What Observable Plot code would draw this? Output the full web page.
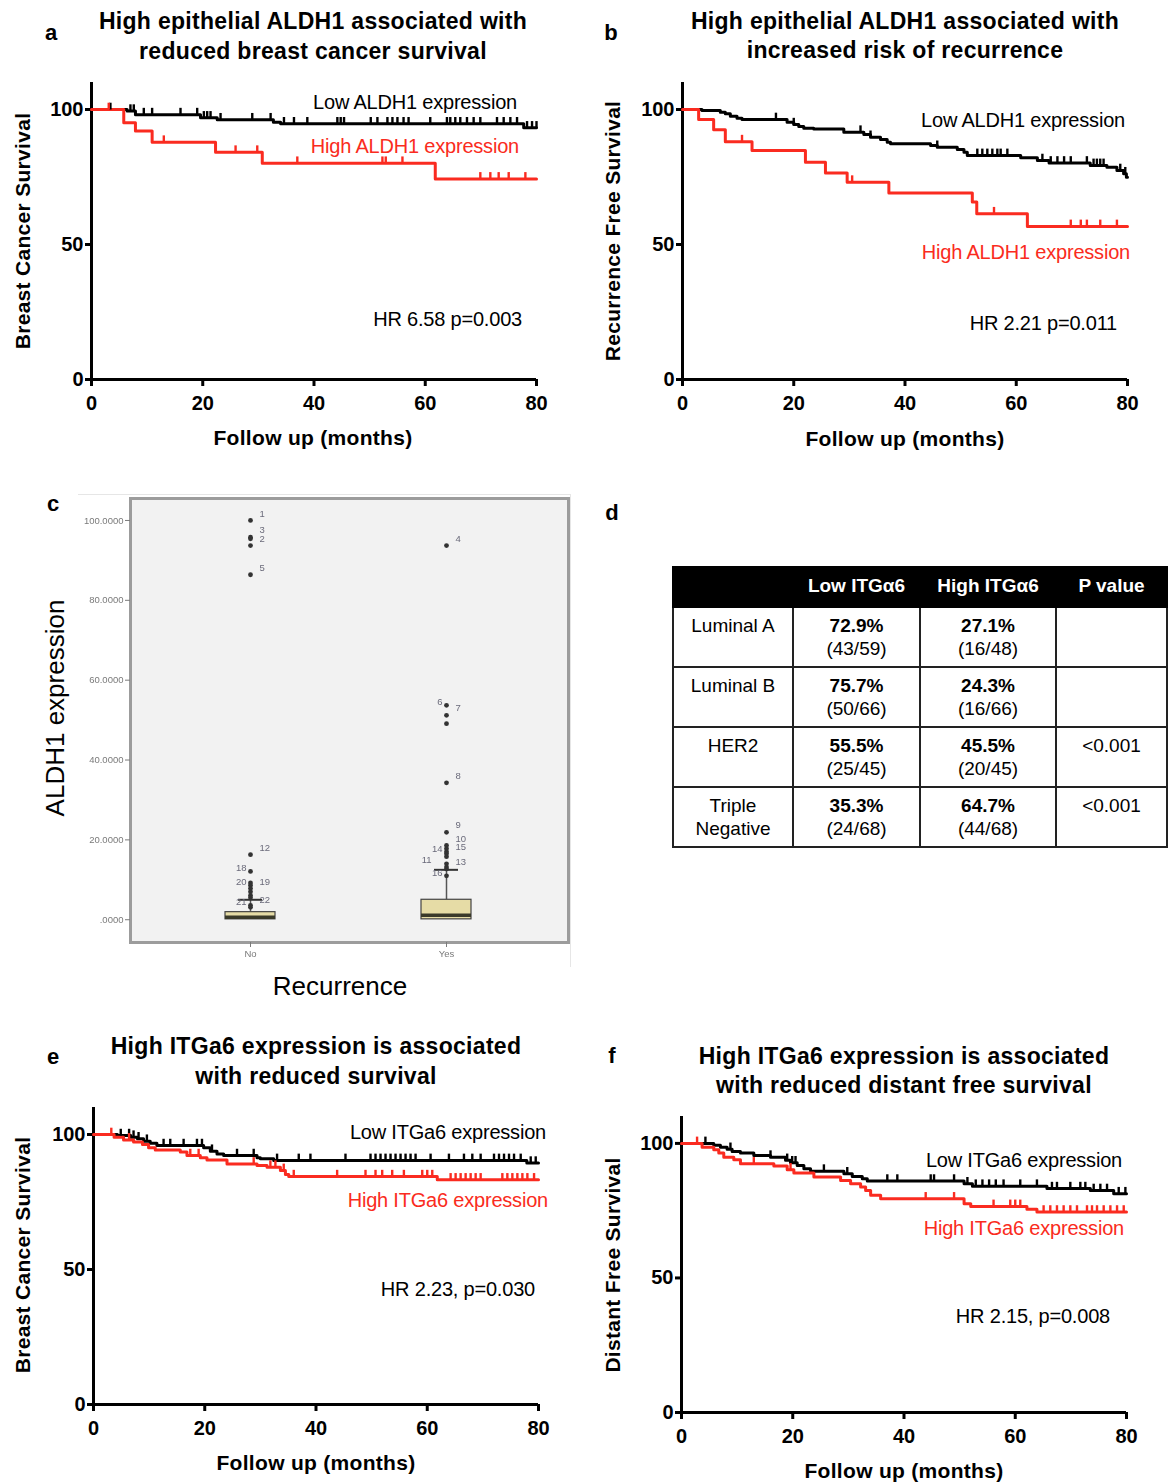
<!DOCTYPE html>
<html><head><meta charset="utf-8">
<script src="https://cdn.jsdelivr.net/npm/d3@7"></script>
<script src="https://cdn.jsdelivr.net/npm/@observablehq/plot@0.6"></script>
<style>
body{margin:0;background:#fff;}
#root{position:relative;width:1170px;height:1482px;overflow:hidden;font-family:"Liberation Sans",Arial,Helvetica,sans-serif;color:#000;background:#fff;}
.lbl{position:absolute;white-space:nowrap;line-height:1;}
table.d td, table.d th{box-sizing:border-box;}
</style></head><body><div id="root"></div>
<script>
const RED = "#fa2b20";

// ---------- Panel a: breast cancer survival by ALDH1 ----------
const aLowT = [0, 6.4, 7.9, 19.6, 22.6, 32.7, 34.0, 77.7, 80];
const aLowS = [100, 99.4, 98.1, 96.9, 96.2, 95.3, 94.7, 93.2, 93.2];
const aLowCens = [3.4, 7.0, 7.6, 9.4, 10.9, 16.0, 19.0, 20.2, 20.8, 21.4, 23.2, 28.9, 32.2, 34.6, 36.4, 38.8, 44.2, 44.8, 45.4, 50.2, 51.4, 53.2, 54.1, 55.0, 56.1, 57.0, 60.9, 63.9, 64.5, 65.4, 66.3, 67.5, 68.7, 69.9, 72.9, 74.1, 75.3, 76.5, 78.3, 79.2, 80];
const aHighT = [0, 5.8, 7.9, 10.9, 22.3, 30.7, 61.8, 80];
const aHighS = [100, 95.1, 92.0, 87.9, 84.2, 80.1, 74.3, 74.3];
const aHighCens = [3.1, 13.0, 25.9, 29.8, 37.0, 52.3, 52.9, 55.9, 69.9, 71.7, 73.2, 75.0, 78.0];

// ---------- Panel b: recurrence free survival by ALDH1 ----------
const bLowT = [0, 3.5, 6.8, 7.7, 8.6, 9.8, 10.7, 18.8, 20.0, 20.9, 21.8, 23.6, 29.0, 32.6, 33.8, 35.6, 36.8, 37.4, 44.6, 45.8, 49.4, 50.6, 51.2, 60.8, 63.8, 65.9, 73.3, 76.3, 78.1, 79.3, 79.8, 80];
const bLowS = [100, 99.6, 99.0, 98.4, 97.5, 96.8, 96.3, 95.3, 94.4, 93.7, 93.1, 92.8, 91.6, 90.7, 89.7, 88.9, 87.9, 87.3, 86.7, 86.0, 85.2, 84.2, 83.0, 82.1, 81.1, 80.2, 79.3, 78.6, 77.4, 76.2, 74.9, 74.9];
const bLowCens = [16.8, 20.0, 32.0, 33.8, 45.8, 53.0, 53.9, 54.8, 55.7, 56.6, 57.2, 58.4, 64.7, 66.2, 67.4, 68.6, 69.8, 72.7, 73.9, 74.5, 75.1, 75.7, 78.7, 79.6];
const bHighT = [0, 2.9, 5.6, 7.7, 12.5, 22.1, 25.7, 29.6, 37.1, 52.1, 52.9, 62.0, 80];
const bHighS = [100, 96.3, 92.5, 88.1, 84.8, 80.5, 76.5, 73.1, 69.1, 65.7, 61.4, 56.7, 56.7];
const bHighCens = [10.7, 30.5, 56.0, 69.8, 71.6, 72.7, 75.1, 78.1];

// ---------- Panel e: breast cancer survival by ITGa6 ----------
const eLowT = [0, 4.3, 6.7, 7.9, 9.0, 10.2, 11.4, 19.8, 21.0, 22.2, 23.4, 29.4, 30.0, 32.4, 77.9, 80];
const eLowS = [100, 99.6, 99.0, 98.4, 97.5, 96.8, 95.9, 95.1, 93.8, 92.8, 92.2, 91.4, 91.0, 90.4, 89.4, 89.4];
const eLowCens = [4.9, 6.4, 7.2, 8.1, 9.6, 12.6, 13.8, 16.2, 18.6, 19.5, 21.3, 25.8, 28.8, 33.0, 36.9, 39.0, 45.3, 49.8, 50.7, 51.6, 52.5, 53.4, 54.3, 55.2, 56.1, 57.0, 57.9, 60.6, 63.9, 66.6, 68.1, 69.6, 72.0, 72.9, 73.8, 74.7, 75.6, 76.8, 78.6, 79.5];
const eHighT = [0, 3.7, 5.4, 7.2, 8.8, 9.9, 11.1, 15.6, 16.8, 19.2, 20.4, 24.0, 29.4, 31.2, 33.6, 34.5, 35.1, 61.8, 80];
const eHighS = [100, 99.0, 98.0, 97.2, 96.3, 95.1, 94.3, 93.5, 92.2, 91.4, 90.6, 89.1, 88.5, 87.9, 86.7, 85.2, 84.4, 83.2, 83.2];
const eHighCens = [3.2, 6.4, 17.4, 18.9, 28.8, 31.8, 32.7, 34.2, 36.0, 43.8, 48.9, 50.7, 51.9, 53.7, 55.8, 59.1, 60.0, 60.9, 64.2, 65.1, 66.0, 66.9, 67.8, 68.7, 69.6, 73.5, 74.4, 75.3, 76.2, 77.1, 78.0, 79.2];

// ---------- Panel f: distant free survival by ITGa6 ----------
const fLowT = [0, 5.8, 7.0, 8.2, 9.1, 10.6, 13.0, 16.0, 18.7, 19.6, 20.8, 22.0, 23.2, 29.2, 30.7, 32.5, 33.4, 50.8, 52.3, 65.7, 73.5, 77.7, 80];
const fLowS = [100, 99.3, 98.6, 97.8, 97.0, 96.4, 95.5, 94.9, 93.7, 92.8, 91.8, 90.6, 89.7, 88.7, 87.7, 86.9, 86.0, 85.0, 84.1, 83.2, 82.5, 81.3, 81.3];
const fLowCens = [4.3, 8.8, 16.0, 19.0, 19.9, 20.5, 25.6, 29.8, 37.0, 38.8, 44.8, 45.4, 49.0, 51.4, 52.9, 54.1, 55.3, 56.5, 57.9, 60.9, 63.9, 66.6, 67.5, 69.9, 71.7, 72.6, 74.1, 75.3, 76.5, 78.6, 79.8];
const fHighT = [0, 3.7, 5.8, 6.7, 7.6, 9.4, 10.6, 16.6, 19.0, 20.2, 23.8, 28.6, 30.4, 32.2, 33.1, 34.0, 35.8, 50.8, 52.0, 62.1, 63.9, 80];
const fHighS = [100, 98.6, 97.6, 96.4, 94.9, 93.9, 92.4, 91.6, 90.2, 89.0, 87.5, 86.2, 85.0, 83.8, 82.5, 80.7, 79.4, 77.6, 76.6, 75.5, 74.5, 74.5];
const fHighCens = [2.8, 13.0, 19.6, 43.9, 49.0, 56.1, 59.1, 60.0, 60.9, 65.1, 66.3, 67.5, 68.7, 69.9, 71.1, 72.9, 73.8, 74.7, 75.9, 77.1, 78.3, 79.5];

const kmXTicks = [0, 20, 40, 60, 80];
const kmYTicks = [0, 50, 100];

// ---------- Panel c: ALDH1 expression by recurrence (boxplot) ----------
const boxCats = ["No", "Yes"];
const boxQ1 = [0.1, 0.1];
const boxMedian = [0.6, 1.1];
const boxQ3 = [1.9, 5.0];
const boxWhiskerHi = [5.0, 12.5];
const outNoValues = [100.0, 95.8, 95.4, 93.7, 86.4, 16.3, 12.1, 9.2, 8.6, 7.8, 7.0, 6.1, 5.5, 3.6, 3.1];
const outNoIds    = ["1", "3", "", "2", "5", "12", "18", "", "20", "19", "", "", "", "21", "22"];
const outYesValues = [93.7, 53.7, 51.2, 49.1, 34.3, 21.9, 18.6, 17.8, 17.0, 16.5, 15.8, 14.0, 13.2, 12.7, 11.0];
const outYesIds    = ["4", "6", "7", "", "8", "9", "10", "", "14", "15", "11", "", "", "13", "16"];
const leftLabelled = ["18", "20", "6", "14", "16", "21"];
const farLeftLabelled = ["11"];
const cTicks = [0, 20, 40, 60, 80, 100];
const cTickLabels = [".0000", "20.0000", "40.0000", "60.0000", "80.0000", "100.0000"];

// ---------- Panel d: table ----------
const tHeader = ["", "Low ITG\u03b16", "High ITG\u03b16", "P value"];
const subtypes = ["Luminal A", "Luminal B", "HER2", "Triple Negative"];
const lowPct = ["72.9%", "75.7%", "55.5%", "35.3%"];
const lowCount = ["(43/59)", "(50/66)", "(25/45)", "(24/68)"];
const highPct = ["27.1%", "24.3%", "45.5%", "64.7%"];
const highCount = ["(16/48)", "(16/66)", "(20/45)", "(44/68)"];
const pValues = ["", "", "<0.001", "<0.001"];

// ================= helpers =================
const root = document.getElementById("root");
function place(el, left, top) {
  el.style.position = "absolute"; el.style.left = left + "px"; el.style.top = top + "px";
  root.appendChild(el);
}
function txt(s, x, y, o = {}) {
  const {size = 20, weight = "normal", color = "#000", align = "center", rotate = false, ls = 0} = o;
  const d = document.createElement("div");
  d.className = "lbl"; d.textContent = s;
  d.style.fontSize = size + "px"; d.style.fontWeight = weight; d.style.color = color;
  d.style.letterSpacing = ls + "px";
  d.style.left = x + "px"; d.style.top = y + "px";
  const tx = align === "center" ? "-50%" : align === "right" ? "-100%" : "0";
  d.style.transform = `translate(${tx}, -50%)` + (rotate ? " rotate(-90deg)" : "");
  root.appendChild(d);
}
function stepAt(T, S, t) { let v = S[0]; for (let i = 0; i < T.length; i++) if (T[i] <= t) v = S[i]; return v; }
const tickUp = {draw(ctx, size) { const r = Math.sqrt(size / Math.PI); ctx.moveTo(0, 0); ctx.lineTo(0, -2 * r); }};

function km(cfg) {
  const lines = [], cens = [];
  for (const g of cfg.groups) {
    g.T.forEach((t, i) => lines.push({t, s: g.S[i], g: g.name}));
    g.C.forEach(t => cens.push({t, s: stepAt(g.T, g.S, t), g: g.name}));
  }
  return Plot.plot({
    width: cfg.width, height: cfg.height,
    marginLeft: cfg.ml, marginRight: cfg.mr, marginTop: cfg.mt, marginBottom: cfg.mb,
    x: {domain: [0, 80]},
    y: {domain: [0, 110]},
    color: {domain: ["low", "high"], range: ["#000", RED]},
    style: {fontFamily: '"Liberation Sans", Arial, sans-serif', fontSize: "20px", fontWeight: "bold", background: "transparent", overflow: "visible"},
    marks: [
      Plot.axisX({ticks: kmXTicks, tickSize: 7, tickPadding: 9, strokeWidth: 3, fontSize: 20, fontWeight: "bold", label: null, tickFormat: d => String(d)}),
      Plot.axisY({ticks: kmYTicks, tickSize: 6, tickPadding: 2, strokeWidth: 3, fontSize: 20, fontWeight: "bold", label: null, tickFormat: d => String(d)}),
      Plot.ruleY([0], {x1: 0, x2: 80, strokeWidth: 3}),
      Plot.ruleX([0], {y1: 0, y2: 110, strokeWidth: 3}),
      Plot.line(lines, {x: "t", y: "s", z: "g", stroke: "g", curve: "step-after", strokeWidth: 3}),
      Plot.dot(cens, {x: "t", y: "s", stroke: "g", symbol: tickUp, r: 3.4, strokeWidth: 2.4, fill: "none"})
    ]
  });
}

// ================= KM panels =================
place(km({width: 585, height: 350, ml: 91, mr: 49, mt: 12, mb: 41,
  groups: [{name: "low", T: aLowT, S: aLowS, C: aLowCens}, {name: "high", T: aHighT, S: aHighS, C: aHighCens}]}), 0, 70);
place(km({width: 580, height: 350, ml: 92, mr: 43, mt: 12, mb: 41,
  groups: [{name: "low", T: bLowT, S: bLowS, C: bLowCens}, {name: "high", T: bHighT, S: bHighS, C: bHighCens}]}), 590, 70);
place(km({width: 585, height: 350, ml: 93, mr: 47, mt: 12, mb: 41,
  groups: [{name: "low", T: eLowT, S: eLowS, C: eLowCens}, {name: "high", T: eHighT, S: eHighS, C: eHighCens}]}), 0, 1095);
place(km({width: 580, height: 350, ml: 91, mr: 44, mt: 12, mb: 42,
  groups: [{name: "low", T: fLowT, S: fLowS, C: fLowCens}, {name: "high", T: fHighT, S: fHighS, C: fHighCens}]}), 590, 1104);

// ================= Panel c boxplot =================
const boxes = boxCats.map((c, i) => ({c, q1: boxQ1[i], med: boxMedian[i], q3: boxQ3[i], hi: boxWhiskerHi[i]}));
const outs = [
  ...outNoValues.map((v, i) => ({c: "No", v, id: outNoIds[i]})),
  ...outYesValues.map((v, i) => ({c: "Yes", v, id: outYesIds[i]}))
];
const outRight = outs.filter(d => d.id && !leftLabelled.includes(d.id) && !farLeftLabelled.includes(d.id));
const outLeft = outs.filter(d => d.id && leftLabelled.includes(d.id));
const outFarLeft = outs.filter(d => d.id && farLeftLabelled.includes(d.id));
const cPlot = Plot.plot({
  width: 510, height: 480, marginLeft: 60, marginRight: 12, marginTop: 8, marginBottom: 28,
  x: {type: "band", domain: boxCats, range: [155, 401.7], paddingInner: 0.746, paddingOuter: 0},
  y: {domain: [-5.7, 105.5]},
  style: {fontFamily: '"Liberation Sans", Arial, sans-serif', background: "transparent", overflow: "visible"},
  marks: [
    Plot.frame({fill: "#f2f2f2", stroke: "#9c9c9c", strokeWidth: 3}),
    Plot.axisY({ticks: cTicks, tickFormat: d => cTickLabels[cTicks.indexOf(d)], tickSize: 5, tickPadding: 2, fontSize: 9.5, color: "#7a7a7a", label: null}),
    Plot.axisX({tickSize: 5, tickPadding: 3, fontSize: 9.5, color: "#7a7a7a", label: null}),
    Plot.ruleX(boxes, {x: "c", y1: "q3", y2: "hi", stroke: "#555", strokeWidth: 1.5}),
    Plot.tickY(boxes, {x: "c", y: "hi", stroke: "#333", strokeWidth: 2, insetLeft: 13, insetRight: 13}),
    Plot.barY(boxes, {x: "c", y1: "q1", y2: "q3", fill: "#e6dca6", stroke: "#444", strokeWidth: 1.2}),
    Plot.tickY(boxes, {x: "c", y: "med", stroke: "#3a3a2a", strokeWidth: 3.5}),
    Plot.dot(outs, {x: "c", y: "v", r: 2.4, fill: "#333"}),
    Plot.text(outRight, {x: "c", y: "v", text: "id", dx: 9, dy: -7, fontSize: 9.5, fill: "#6a6a7a", textAnchor: "start"}),
    Plot.text(outLeft, {x: "c", y: "v", text: "id", dx: -4, dy: -3, fontSize: 9.5, fill: "#6a6a7a", textAnchor: "end"}),
    Plot.text(outFarLeft, {x: "c", y: "v", text: "id", dx: -15, dy: 3, fontSize: 9.5, fill: "#6a6a7a", textAnchor: "end"})
  ]
});
cPlot.style.filter = "blur(0.45px)";
place(cPlot, 70, 490);
const edge = document.createElement("div");
edge.style.cssText = "width:492px;height:472px;border-top:1px solid #e6e6e6;border-right:1px solid #e6e6e6;";
place(edge, 78, 494);

// ================= Panel d table =================
const tbl = document.createElement("table");
tbl.className = "d";
tbl.style.cssText = "width:494px;border-collapse:collapse;table-layout:fixed;font-size:19px;font-family:'Liberation Sans',Arial,sans-serif;";
const colW = [120, 127, 136, 111];
const cg = document.createElement("colgroup");
colW.forEach(w => { const c = document.createElement("col"); c.style.width = w + "px"; cg.appendChild(c); });
tbl.appendChild(cg);
const hr = document.createElement("tr");
tHeader.forEach(h => {
  const th = document.createElement("th"); th.textContent = h;
  th.style.cssText = "background:#000;color:#fff;font-weight:bold;height:40px;padding:0 0 3px 0;border:2px solid #000;text-align:center;vertical-align:middle;";
  hr.appendChild(th);
});
tbl.appendChild(hr);
subtypes.forEach((s, i) => {
  const tr = document.createElement("tr");
  const cells = [
    `<span>${s}</span>`,
    `<b>${lowPct[i]}</b><br>${lowCount[i]}`,
    `<b>${highPct[i]}</b><br>${highCount[i]}`,
    pValues[i].replace("<", "&lt;")
  ];
  cells.forEach((html, j) => {
    const td = document.createElement("td"); td.innerHTML = html;
    td.style.cssText = "height:60px;padding:7px 4px 0 4px;border:2px solid #222;text-align:center;vertical-align:top;line-height:22.5px;";
    tr.appendChild(td);
  });
  tbl.appendChild(tr);
});
place(tbl, 672, 566);

// ================= Text overlays =================
const letter = {size: 22, weight: "bold"};
txt("a", 51, 33, letter); txt("b", 611, 33, letter); txt("c", 53, 504, letter);
txt("d", 612, 513, letter); txt("e", 53, 1057, letter); txt("f", 612, 1056, letter);

const ttl = {size: 23, weight: "bold", ls: 0.3};
txt("High epithelial ALDH1 associated with", 313, 21, ttl);
txt("reduced breast cancer survival", 313, 51, ttl);
txt("High epithelial ALDH1 associated with", 905, 21, ttl);
txt("increased risk of recurrence", 905, 50, ttl);
txt("High ITGa6 expression is associated", 316, 1046, ttl);
txt("with reduced survival", 316, 1076, ttl);
txt("High ITGa6 expression is associated", 904, 1056, ttl);
txt("with reduced distant free survival", 904, 1085, ttl);

const axl = {size: 21, weight: "bold", ls: 0.3};
txt("Breast Cancer Survival", 22, 231, {...axl, rotate: true});
txt("Recurrence Free Survival", 612, 231, {...axl, rotate: true});
txt("Breast Cancer Survival", 22, 1255, {...axl, rotate: true});
txt("Distant Free Survival", 612, 1265, {...axl, rotate: true});
txt("Follow up (months)", 313, 437, axl);
txt("Follow up (months)", 905, 438, axl);
txt("Follow up (months)", 316, 1462, axl);
txt("Follow up (months)", 904, 1470, axl);

const leg = {size: 20, align: "right", ls: -0.2};
txt("Low ALDH1 expression", 517, 102, leg);
txt("High ALDH1 expression", 519, 146, {...leg, color: RED});
txt("HR 6.58 p=0.003", 522, 319, leg);
txt("Low ALDH1 expression", 1125, 120, leg);
txt("High ALDH1 expression", 1130, 252, {...leg, color: RED});
txt("HR 2.21 p=0.011", 1117, 323, leg);
txt("Low ITGa6 expression", 546, 1132, leg);
txt("High ITGa6 expression", 548, 1200, {...leg, color: RED});
txt("HR 2.23, p=0.030", 535, 1289, leg);
txt("Low ITGa6 expression", 1122, 1160, leg);
txt("High ITGa6 expression", 1124, 1228, {...leg, color: RED});
txt("HR 2.15, p=0.008", 1110, 1316, leg);

txt("ALDH1 expression", 55, 708, {size: 26, rotate: true});
txt("Recurrence", 340, 986, {size: 26});
</script></body></html>
